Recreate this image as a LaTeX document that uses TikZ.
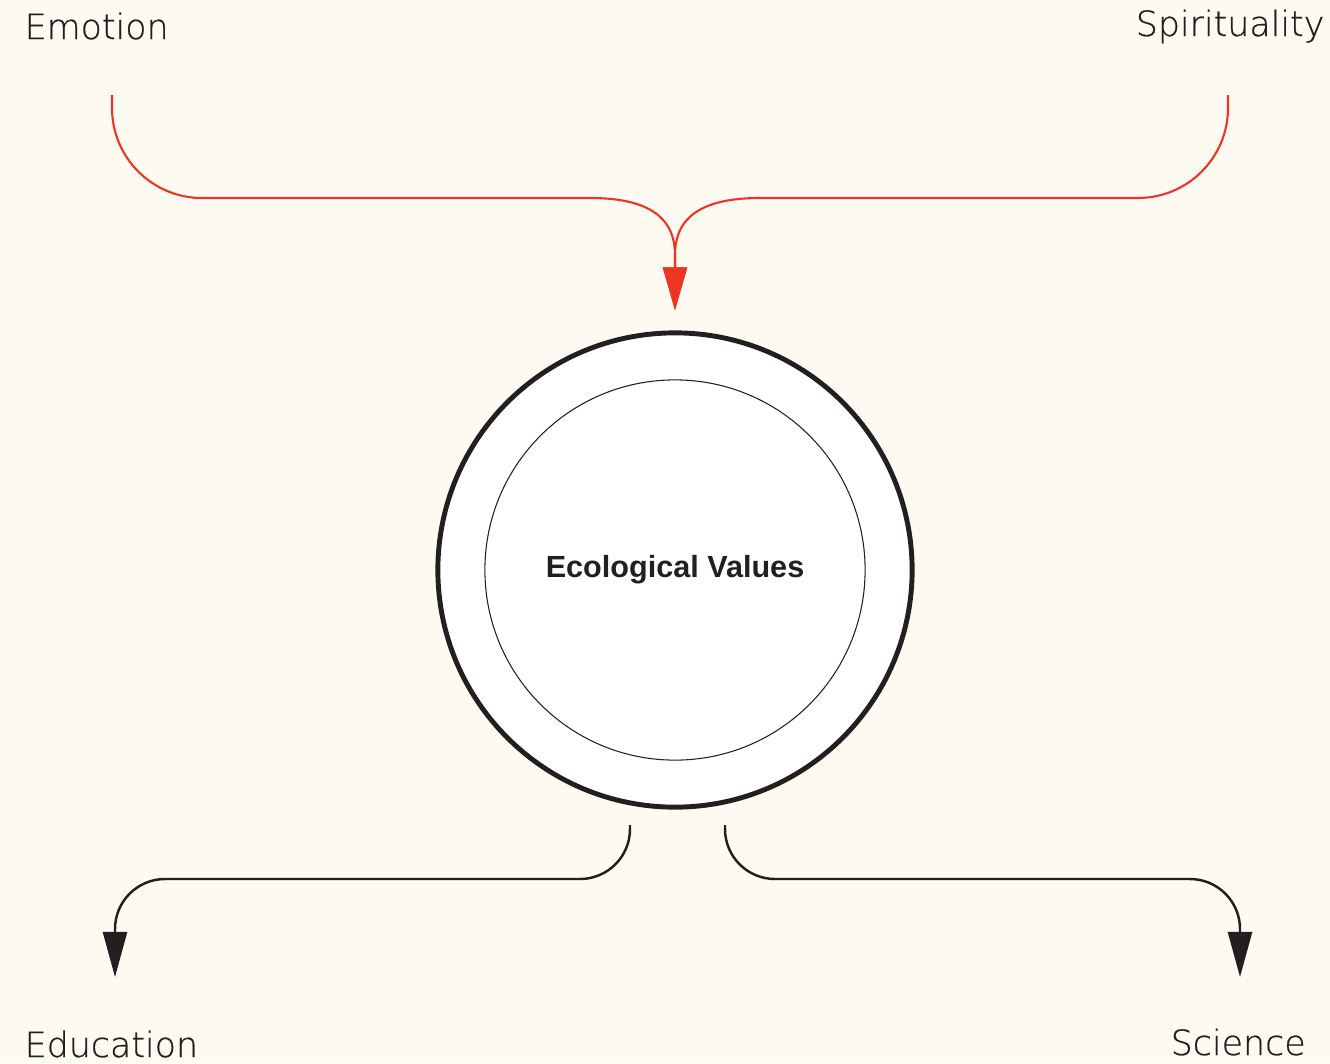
\documentclass[tikz,border=0pt]{standalone}
\usepackage{fontspec}
\setmainfont{DejaVu Sans}
\newfontfamily\labelfont{DejaVu Sans}[UprightFont=* ExtraLight, FakeBold=0.6]
\newfontfamily\centrefont{Liberation Sans}
\usetikzlibrary{positioning,arrows.meta}
\definecolor{paper}{HTML}{FDFAF2}
\definecolor{ink}{HTML}{231F20}
\definecolor{flame}{HTML}{EE3524}

\begin{document}
\begin{tikzpicture}[
  x=0.01cm, y=-0.01cm,
  tag/.style={font=\labelfont\fontsize{9.9}{12}\selectfont, text=ink, inner sep=0pt},
  inarr/.style={flame, line width=0.6pt, -{Triangle[length=0.43cm, width=0.24cm]}},
  outarr/.style={ink, line width=0.7pt, rounded corners=0.5cm, -{Triangle[length=0.45cm, width=0.24cm]}},
  ring/.style={circle, draw=ink, fill=white, line width=1.4pt, minimum size=4.74cm, inner sep=0pt},
  core/.style={circle, draw=ink, line width=0.3pt, minimum size=3.8cm, inner sep=0pt, font=\centrefont\bfseries\fontsize{8.7}{10}\selectfont, text=ink}
]
  \useasboundingbox[fill=paper] (0,0) rectangle (1330,1063);

  % sources and targets
  \node[tag, anchor=base west] (emo) at (24,39) {Emotion};
  \node[tag, anchor=base east] (spi) at (1325,36) {Spirituality};
  \node[tag, anchor=base west] (edu) at (24,1057) {Education};
  \node[tag, anchor=base west] (sci) at (1170,1055) {Science};

  % the value rings
  \node[ring] (ring) at (675,570) {};
  \node[core] (core) at (ring.center) {Ecological Values};

  \coordinate (emo-out) at (112,95);
  \coordinate (spi-out) at (1228,95);
  \coordinate (edu-in) at (630,825);
  \coordinate (sci-in) at (725,825);
  \coordinate (edu-tip) at (115,977);
  \coordinate (sci-tip) at (1240,977);

  % feeding in
  \draw[inarr] (emo-out) -- (112,108) .. controls (112,157.7) and (152.3,198) .. (202,198)
    -- (590,198) .. controls (645,198) and (675,215) .. (675,255) -- ([yshift=0.2cm]ring.north);
  \draw[inarr] (spi-out) -- (1228,108) .. controls (1228,157.7) and (1187.7,198) .. (1138,198)
    -- (760,198) .. controls (705,198) and (675,215) .. (675,255) -- ([yshift=0.2cm]ring.north);

  % going out
  \draw[outarr] (edu-in) -- (630,879) -- (115,879) -- (edu-tip);
  \draw[outarr] (sci-in) -- (725,879) -- (1240,879) -- (sci-tip);
\end{tikzpicture}
\end{document}
